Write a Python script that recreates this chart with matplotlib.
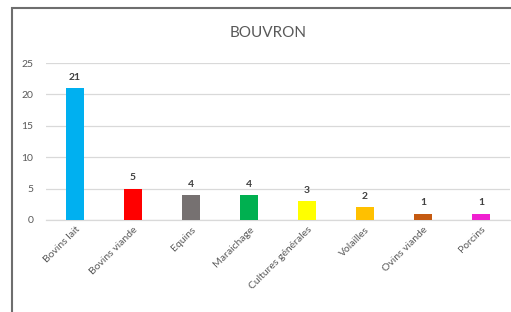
import matplotlib
matplotlib.use("Agg")
import matplotlib.pyplot as plt
from matplotlib.patches import Rectangle

plt.rcParams["font.family"] = ["Lato", "DejaVu Sans"]

# Data
categories = ["Bovins lait", "Bovins viande", "Equins", "Maraichage",
              "Cultures générales", "Volailles", "Ovins viande", "Porcins"]
values = [21, 5, 4, 4, 3, 2, 1, 1]
colors = ["#00B0F0", "#FF0000", "#767171", "#00B050",
          "#FFFF00", "#FFC000", "#C55A11", "#F020D0"]
yticks = [0, 5, 10, 15, 20, 25]

fig = plt.figure(figsize=(5.11, 3.12), dpi=100)
ax = fig.add_axes([0.09, 0.295, 0.908, 0.503])

x = range(len(categories))
bars = ax.bar(x, values, width=0.31, color=colors, zorder=3)
for b, v in zip(bars, values):
    ax.text(b.get_x() + b.get_width() / 2, v + 1.0, str(v), ha="center", va="bottom",
            fontsize=7.5, fontweight="bold", color="#404040")

ax.set_xlim(-0.5, len(categories) - 0.5)
ax.set_ylim(0, 25)
ax.set_yticks(yticks)
ax.yaxis.grid(True, color="#D9D9D9", linewidth=0.9, zorder=0)
ax.set_axisbelow(True)
for s in ["top", "right", "left"]:
    ax.spines[s].set_visible(False)
ax.spines["bottom"].set_color("#D9D9D9")
ax.spines["bottom"].set_linewidth(0.9)
ax.tick_params(axis="both", length=0, labelsize=7.5, labelcolor="#595959")
ax.tick_params(axis="y", pad=9)
ax.set_xticks(list(x))
ax.set_xticklabels(categories, rotation=45, ha="right", rotation_mode="anchor")

fig.text(0.525, 0.895, "BOUVRON", ha="center", va="center", fontsize=11, color="#595959")

# chart border
fig.add_artist(Rectangle((12 / 511, -0.1), 1.1, 1 - 8 / 312 + 0.1, transform=fig.transFigure,
                         fill=False, edgecolor="#6E6E6E", linewidth=1.5))

fig.savefig("out.png", dpi=100)
